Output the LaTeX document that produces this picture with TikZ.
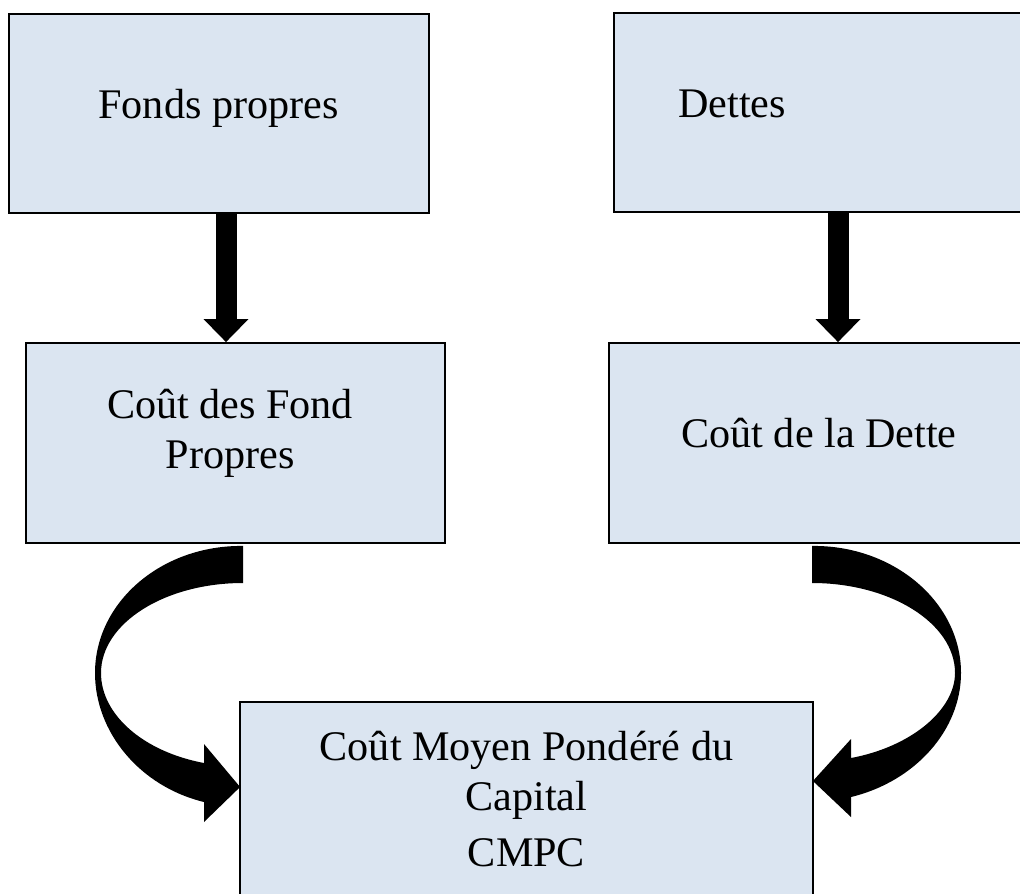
\documentclass[tikz,border=0pt]{standalone}
\usepackage{fontspec}
\setmainfont{Liberation Serif}
\usetikzlibrary{arrows.meta,calc}
\definecolor{boxfill}{HTML}{DBE5F1}

\begin{document}
\begin{tikzpicture}[
  x=0.02cm, y=-0.02cm,
  box/.style={draw, line width=1.1pt, fill=boxfill, inner sep=0pt},
  lbl/.style={align=center, inner sep=0pt, font=\fontsize{24}{28.5}\selectfont},
  arr/.style={line width=0.42cm, -{Triangle[width=0.9cm, length=0.46cm, line width=0pt]}},
  bent/.style={fill=black}
]
  \useasboundingbox (0,0) rectangle (1020,893);
  \clip (0,0) rectangle (1020,893);

  % boxes
  \node[box, minimum width=8.4cm, minimum height=3.98cm] (fp) at (219,113.5) {};
  \node[box, minimum width=8.32cm, minimum height=3.98cm] (dt) at (822,112.5) {};
  \node[box, minimum width=8.38cm, minimum height=4cm] (cfp) at (235.5,443) {};
  \node[box, minimum width=8.42cm, minimum height=4cm] (cdt) at (819.5,443) {};
  \node[box, minimum width=11.46cm, minimum height=4.16cm] (cmpc) at (526.5,806) {};

  % texts
  \node[lbl] (fptxt) at (218.5,108.2) {Fonds propres};
  \node[lbl] (dttxt) at (732,104) {Dettes};
  \node[lbl] (cfptxt) at (230,433.2) {Coût des Fond\\Propres};
  \node[lbl] (cdttxt) at (819,432.6) {Coût de la Dette};
  \node[lbl] (cmpctxt) at (526.5,799) {Coût Moyen Pondéré du\\Capital\\[3pt]CMPC};

  % straight arrows
  \coordinate (a1) at (226,0);
  \coordinate (a2) at (838,0);
  \draw[arr] (fp.south -| a1) -- (cfp.north -| a1);
  \draw[arr] (dt.south -| a2) -- (cdt.north -| a2);

  % bent arrows
  \fill[bent] ($(cfp.south)+(7.5,2)$) .. controls (161.3,545) and (95,602.3) .. (95,673)
    .. controls (95,732) and (139.7,786.4) .. (204,802) -- (204,822)
    -- ($(cmpc.west)+(1,-19)$) -- (204,744) -- (204,763)
    .. controls (143.1,751.6) and (101,714.5) .. (101,673)
    .. controls (101,623.3) and (164.6,583) .. (243,583) -- cycle;
  \fill[bent] ($(cdt.south)+(-7.5,2)$) .. controls (893.7,545) and (961,602.3) .. (961,673)
    .. controls (961,730) and (915.3,781.4) .. (851,797) -- (851,817)
    -- ($(cmpc.east)+(-1,-25)$) -- (851,739) -- (851,758)
    .. controls (911.9,746.6) and (955,709.5) .. (955,673)
    .. controls (955,623.3) and (890.4,583) .. (812,583) -- cycle;
\end{tikzpicture}
\end{document}
